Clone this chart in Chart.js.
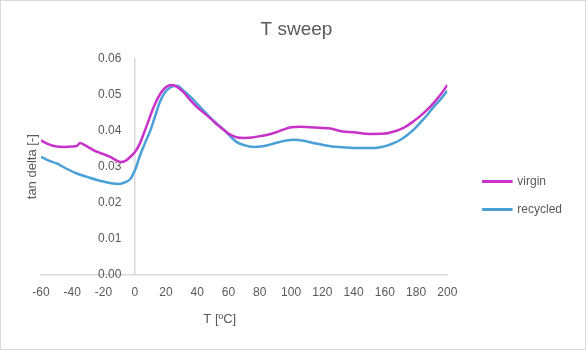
<!DOCTYPE html>
<html>
<head>
<meta charset="utf-8">
<script src="https://cdn.jsdelivr.net/npm/chart.js@4/dist/chart.umd.min.js"></script>
<style>
  body { margin: 0; background: #fff; }
  #wrap { width: 586px; height: 350px; position: relative; }
</style>
</head>
<body>
<div id="wrap"><canvas id="myChart" width="586" height="350"></canvas></div>
<script>
// data
var seriesNames = ["virgin", "recycled"]
var virginT   = [-60,-55,-50,-45,-40,-37,-35,-32,-28,-24,-20,-16,-12,-9,-6,-3,0,3,6,9,12,15,18,21,24,27,31,35,40,45,50,55,60,65,70,75,80,85,90,95,100,106,115,125,133,140,150,160,166,172,178,183,188,192,196,200]
var virginTan = [0.0373,0.0362,0.0356,0.0355,0.0356,0.0358,0.0366,0.0360,0.0350,0.0341,0.0335,0.0328,0.0318,0.0313,0.0316,0.0327,0.0340,0.0362,0.0395,0.0430,0.0465,0.0493,0.0513,0.0524,0.0527,0.0522,0.0508,0.0488,0.0465,0.0447,0.0428,0.0409,0.0392,0.0382,0.0380,0.0381,0.0385,0.0389,0.0395,0.0403,0.0410,0.0411,0.0409,0.0406,0.0398,0.0396,0.0391,0.0392,0.0398,0.0408,0.0425,0.0442,0.0462,0.0481,0.0502,0.0527]
var recycledT   = [-60,-55,-50,-44,-37,-30,-24,-18,-14,-10,-6,-3,-1,1,3,6,10,13,16,19,23,27,31,36,41,46,51,57,61,65,70,76,82,87,92,97,102,108,114,120,125,133,140,148,155,161,166,170,174,179,183,187,191,196,200]
var recycledTan = [0.0327,0.0317,0.0309,0.0295,0.0281,0.0271,0.0263,0.0257,0.0253,0.0252,0.0257,0.0265,0.0280,0.0300,0.0327,0.0360,0.0401,0.0440,0.0479,0.0505,0.0521,0.0525,0.0512,0.0493,0.0470,0.0447,0.0425,0.0403,0.0385,0.0369,0.0360,0.0355,0.0357,0.0362,0.0368,0.0373,0.0375,0.0372,0.0366,0.0361,0.0357,0.0354,0.0352,0.0352,0.0353,0.0358,0.0366,0.0375,0.0387,0.0405,0.0424,0.0443,0.0465,0.0489,0.0511]
var xMin = -60, xMax = 200, xStep = 20
var yMin = 0, yMax = 0.06, yStep = 0.01

function pts(t, v) {
    var out = []
    for (var i = 0; i < t.length; i++) out.push({x: t[i], y: v[i]})
    return out
}

var grey = '#595959'
var font = '"Liberation Sans", Arial, sans-serif'

// frame + axis titles, legend nudged like excel
var extras = {
    id: 'extras',
    afterLayout: function(chart) {
        var lg = chart.legend
        lg.left += 20; lg.right += 20
        lg.top += 40; lg.bottom += 40
    },
    afterDraw: function(chart) {
        var ctx = chart.ctx
        var a = chart.chartArea
        ctx.save()
        ctx.strokeStyle = '#d9d9d9'
        ctx.lineWidth = 1
        ctx.strokeRect(0.5, 0.5, chart.width - 1, chart.height - 1)
        ctx.fillStyle = grey
        ctx.font = '13px ' + font
        ctx.textAlign = 'center'
        ctx.textBaseline = 'middle'
        ctx.fillText('T [ºC]', a.left + (a.right - a.left) * 0.44, a.bottom + 45)
        ctx.translate(32, (a.top + a.bottom) / 2)
        ctx.rotate(-Math.PI / 2)
        ctx.fillText('tan delta [-]', 0, 0)
        ctx.restore()
    }
}

var ctx = document.getElementById("myChart").getContext('2d')
var chart = new Chart(ctx, {
    type: 'line',
    data: {
        datasets: [{
            label: seriesNames[0],
            data: pts(virginT, virginTan),
            borderColor: 'rgb(200, 50, 200)',
            backgroundColor: 'rgb(200, 50, 200)',
            borderWidth: 2.5,
            pointRadius: 0,
            cubicInterpolationMode: 'monotone'
        }, {
            label: seriesNames[1],
            data: pts(recycledT, recycledTan),
            borderColor: 'rgb(75, 160, 215)',
            backgroundColor: 'rgb(75, 160, 215)',
            borderWidth: 2.5,
            pointRadius: 0,
            cubicInterpolationMode: 'monotone'
        }]
    },
    options: {
        responsive: false,
        animation: false,
        layout: { padding: { left: 41, right: 34, bottom: 39, top: 0 } },
        plugins: {
            title: {
                display: true,
                text: 'T sweep',
                color: grey,
                font: { family: font, size: 19, weight: 'normal' },
                padding: { top: 18, bottom: 18 }
            },
            legend: {
                position: 'right',
                labels: {
                    color: grey,
                    font: { family: font, size: 12 },
                    boxWidth: 28,
                    boxHeight: 0.5,
                    padding: 16
                }
            },
            tooltip: { enabled: false }
        },
        scales: {
            x: {
                type: 'linear',
                min: xMin, max: xMax,
                ticks: { stepSize: xStep, color: grey, font: { family: font, size: 12 }, padding: 11 },
                grid: { display: false, drawTicks: false },
                border: { color: '#d9d9d9', width: 1.5 }
            },
            y: {
                min: yMin, max: yMax,
                position: { x: 0 },
                ticks: {
                    stepSize: yStep, color: grey, font: { family: font, size: 12 },
                    callback: function(v) { return v.toFixed(2) + '    ' }
                },
                grid: { display: false, drawTicks: false },
                border: { color: '#d9d9d9', width: 1.5 }
            }
        }
    },
    plugins: [extras]
})
</script>
</body>
</html>
